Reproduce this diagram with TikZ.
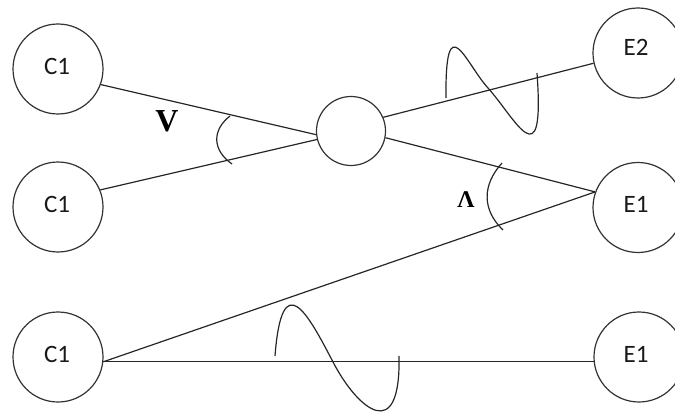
\documentclass[tikz,border=0pt]{standalone}
\usepackage{fontspec}
\setmainfont{Carlito}
\newfontfamily\timesfont{Liberation Serif}
\begin{document}
\begin{tikzpicture}[x=1pt,y=-1pt, line width=1.2pt, draw=black!85,
  state/.style={circle,draw=black!80,line width=1.2pt,minimum size=90pt,inner sep=0pt},
  hub/.style={circle,draw=black!80,line width=1.2pt,minimum size=69pt,inner sep=0pt},
  lab/.style={font=\fontsize{25}{30}\selectfont, inner sep=0pt, text=black!90},
  greek/.style={font=\timesfont\bfseries\fontsize{32}{36}\selectfont, inner sep=0pt},
  conn/.style={draw=black!85,line width=1.2pt},
  wave/.style={draw=black!85,line width=1.2pt}]
\useasboundingbox (0,0) rectangle (675,412);
% circles
\node[state] (c1a) at (58,69) {};
\node[state] (c1b) at (58,207) {};
\node[state] (c1c) at (58,357) {};
\node[hub]   (mid) at (351,131) {};
\node[state] (e2)  at (638,53) {};
\node[state] (e1a) at (638,207.5) {};
\node[state] (e1b) at (639,357) {};
% labels
\node[lab] (t1) at (57,66) {C1};
\node[lab] (t2) at (57,204) {C1};
\node[lab] (t3) at (57,354) {C1};
\node[lab] (t4) at (636,47) {E2};
\node[lab] (t5) at (636,204) {E1};
\node[lab] (t6) at (636,354) {E1};
\node[greek] (v) at (167,121) {V};
\node[greek,font=\timesfont\bfseries\fontsize{24}{28}\selectfont] (lam) at (466,200) {Λ};
% connectors
\draw[conn] (c1a.-20.7) -- (mid.186.7);
\draw[conn] (c1b.22.9) -- (mid.194.8);
\draw[conn] (mid.23.2) -- (e2.193.4);
\draw[conn] (mid.-11.3) -- (e1a.160.3);
\draw[conn] (c1c.-6.3) -- (e1a.160.3);
\draw[conn] (c1c.-6.3) -- (e1b.186.3);
% angle arcs
\draw[wave] (230,116) .. controls (212,130) and (212,150) .. (232,164);
\draw[wave] (502,163) .. controls (482,185) and (482,210) .. (503,230);
% waves
\draw[wave] (446,98) .. controls (445,4) and (466,64) .. (488,88)
            .. controls (515,118) and (545,182) .. (537,73);
\draw[wave] (275,356) .. controls (282,265) and (308,314) .. (333,362)
            .. controls (358,410) and (401,445) .. (399,356);
\end{tikzpicture}
\end{document}
